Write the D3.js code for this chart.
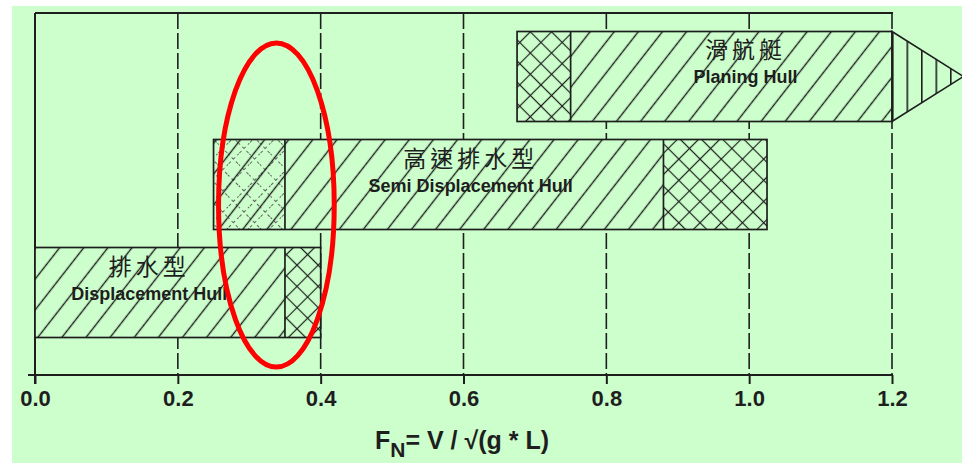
<!DOCTYPE html>
<html><head><meta charset="utf-8">
<script src="https://cdn.jsdelivr.net/npm/d3@7"></script>
<style>body{margin:0;background:#fff} svg{display:block}</style>
</head><body><svg id="c" width="962" height="463"></svg>
<script>
// ---- data ----
const hulls = ["Planing Hull", "Semi Displacement Hull", "Displacement Hull"];
const hullsCN = ["滑航艇", "高速排水型", "排水型"];
const xTicks = [0, 0.2, 0.4, 0.6, 0.8, 1.0, 1.2];
const segPlaning = [[0.675, 0.75, "cross"], [0.75, 1.2, "diag"]];
const segSemi = [[0.25, 0.35, "mixed"], [0.35, 0.88, "diag"], [0.88, 1.025, "cross"]];
const segDisp = [[0, 0.35, "diag"], [0.35, 0.40, "cross"]];
const planingArrow = [1.2, 1.3];
const labelX = [0.995, 0.61, 0.16];
const highlightFn = [0.338, 0.081]; // centre, half-width (Froude number)
const axisTitle = ["F", "N", "= V / √(g * L)"];

const segments = [segPlaning, segSemi, segDisp];

// ---- layout ----
const svg = d3.select("#c");
const BG = "#ccffcc", INK = "#1e1e1e";
svg.append("rect").attr("x", 12).attr("y", 6).attr("width", 950).attr("height", 457).attr("fill", BG);

const x = d3.scaleLinear().domain([0, 1.2]).range([35, 892]);
const y = d3.scaleBand().domain(hulls).range([22.5, 346.5]).paddingInner(0.1667).paddingOuter(0.0833);
const yTop = 13, yAxis = 375;

// patterns
const defs = svg.append("defs");
function linePattern(id, size, angle, stroke, width, dash, both) {
  const p = defs.append("pattern").attr("id", id).attr("patternUnits", "userSpaceOnUse")
    .attr("width", size).attr("height", size).attr("patternTransform", `rotate(${angle})`);
  p.append("line").attr("x1", size / 2).attr("x2", size / 2).attr("y1", -1).attr("y2", size + 1)
    .attr("stroke", stroke).attr("stroke-width", width).attr("stroke-dasharray", dash);
  if (both) p.append("line").attr("y1", size / 2).attr("y2", size / 2).attr("x1", -1).attr("x2", size + 1)
    .attr("stroke", stroke).attr("stroke-width", width).attr("stroke-dasharray", dash);
}
linePattern("diag", 19, 38, INK, 1.4, null, false);
linePattern("cross", 15, 45, INK, 1.2, null, true);
linePattern("lightcross", 15, 45, "#555", 0.9, "3,3", true);
defs.append("pattern").attr("id", "vert").attr("patternUnits", "userSpaceOnUse")
  .attr("x", x(1.2)).attr("width", 14.5).attr("height", 20)
  .append("line").attr("x1", 0.8).attr("x2", 0.8).attr("y1", 0).attr("y2", 20)
  .attr("stroke", INK).attr("stroke-width", 1.6);

// gridlines
svg.append("g").selectAll("line").data(xTicks.slice(1)).join("line")
  .attr("x1", d => x(d)).attr("x2", d => x(d)).attr("y1", yTop).attr("y2", yAxis)
  .attr("stroke", INK).attr("stroke-width", 1.6).attr("stroke-dasharray", "16,4");
// frame
svg.append("line").attr("x1", x(0)).attr("x2", x(0)).attr("y1", yTop).attr("y2", yAxis + 9)
  .attr("stroke", INK).attr("stroke-width", 2);
svg.append("line").attr("x1", x(0)).attr("x2", x(1.2) + 1).attr("y1", yTop).attr("y2", yTop)
  .attr("stroke", INK).attr("stroke-width", 2);

// bars
hulls.forEach((h, i) => {
  const g = svg.append("g");
  const segs = segments[i];
  const y0 = y(h), bh = y.bandwidth();
  segs.forEach(s => {
    const r = () => g.append("rect").attr("x", x(s[0])).attr("y", y0).attr("width", x(s[1]) - x(s[0])).attr("height", bh);
    r().attr("fill", BG);
    if (s[2] === "mixed") { r().attr("fill", "url(#lightcross)"); r().attr("fill", "url(#diag)"); }
    else r().attr("fill", `url(#${s[2]})`);
  });
  if (i === 0) {
    const tri = `M${x(planingArrow[0])},${y0}L${x(planingArrow[1])},${y0 + bh / 2}L${x(planingArrow[0])},${y0 + bh}Z`;
    g.append("path").attr("d", tri).attr("fill", BG);
    g.append("path").attr("d", tri).attr("fill", "url(#vert)").attr("stroke", INK).attr("stroke-width", 1.6);
  }
  const a = segs[0][0], b = segs[segs.length - 1][1];
  g.append("rect").attr("x", x(a)).attr("y", y0).attr("width", x(b) - x(a)).attr("height", bh)
    .attr("fill", "none").attr("stroke", INK).attr("stroke-width", 1.7);
  segs.slice(1).forEach(s => g.append("line").attr("x1", x(s[0])).attr("x2", x(s[0]))
    .attr("y1", y0).attr("y2", y0 + bh).attr("stroke", INK).attr("stroke-width", 1.7));

  // labels
  const lx = x(labelX[i]);
  g.append("text").attr("x", lx).attr("y", y0 + 27).attr("text-anchor", "middle")
    .attr("font-family", "'Noto Sans CJK TC','Noto Sans CJK SC',sans-serif").attr("font-size", 23)
    .attr("letter-spacing", 4).attr("fill", INK).text(hullsCN[i]);
  g.append("text").attr("x", lx).attr("y", y0 + 52).attr("text-anchor", "middle")
    .attr("font-family", "'Liberation Sans',Arial,sans-serif").attr("font-size", 18).attr("font-weight", "bold")
    .attr("fill", INK).text(h);
});

// axis
const ax = svg.append("g").attr("transform", `translate(0,${yAxis})`)
  .call(d3.axisBottom(x).tickValues(xTicks).tickFormat(d3.format(".1f")).tickSize(9).tickSizeOuter(0));
ax.select(".domain").remove();
ax.selectAll(".tick line").attr("stroke", INK).attr("stroke-width", 2);
ax.selectAll(".tick text").attr("y", 31).attr("dy", 0).attr("fill", INK)
  .attr("font-family", "'Liberation Sans',Arial,sans-serif").attr("font-size", 22).attr("font-weight", "bold");
svg.append("line").attr("x1", 28).attr("x2", x(1.2) + 1).attr("y1", yAxis).attr("y2", yAxis)
  .attr("stroke", INK).attr("stroke-width", 2);

// axis title
const t = svg.append("text").attr("x", 462).attr("y", 449).attr("text-anchor", "middle")
  .attr("font-family", "'Liberation Sans',Arial,sans-serif").attr("font-size", 25).attr("font-weight", "bold")
  .attr("fill", INK);
t.append("tspan").text(axisTitle[0]);
t.append("tspan").attr("font-size", 21).attr("dy", 8).text(axisTitle[1]);
t.append("tspan").attr("dy", -8).text(axisTitle[2]);

// highlight ellipse
const cx = x(highlightFn[0]);
svg.append("ellipse").attr("cx", cx).attr("cy", 205)
  .attr("rx", x(highlightFn[0] + highlightFn[1]) - cx).attr("ry", 162)
  .attr("fill", "none").attr("stroke", "#ff0000").attr("stroke-width", 5);
</script></body></html>
